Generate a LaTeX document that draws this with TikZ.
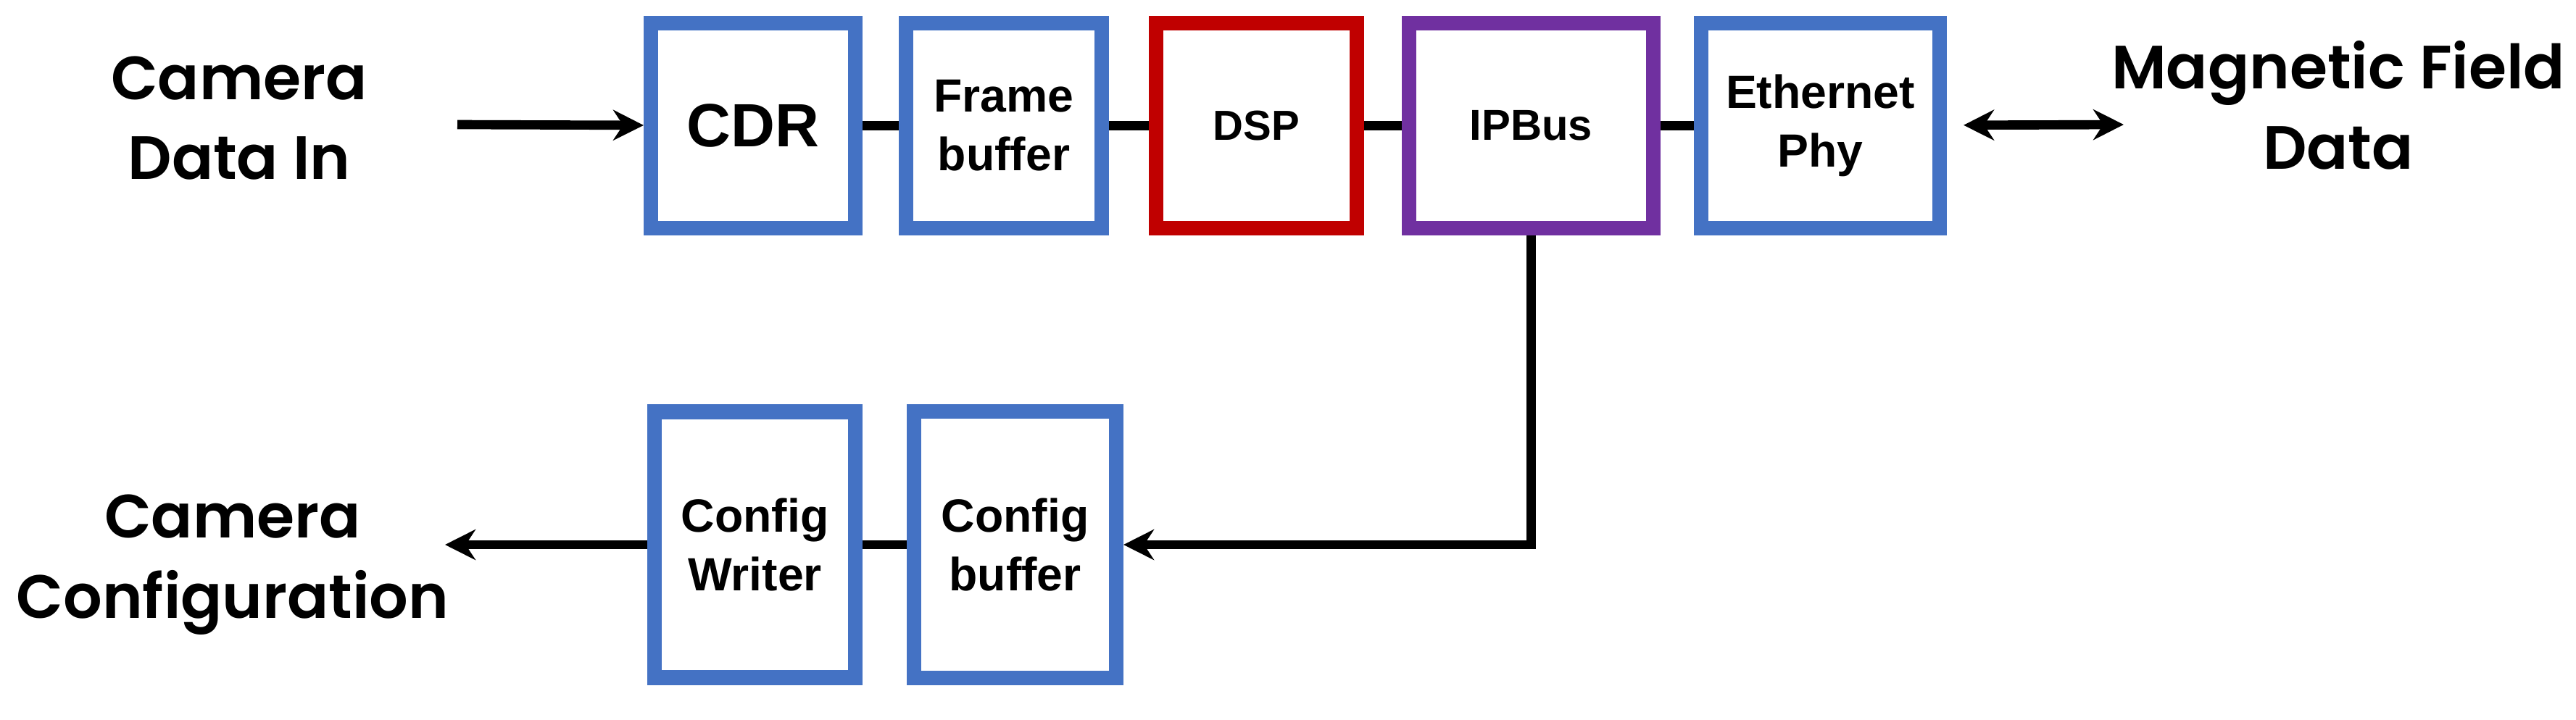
\documentclass[tikz,border=0pt]{standalone}
\usepackage{fontspec}
\setmainfont{Liberation Sans}
\newfontfamily\labelfont{Poppins}[UprightFont={* SemiBold}]
\usetikzlibrary{arrows.meta}
\definecolor{boxblue}{RGB}{68,114,196}
\definecolor{boxred}{RGB}{192,0,0}
\definecolor{boxpurple}{RGB}{112,48,160}
\tikzset{
    block-box/.style = {draw=boxblue, fill=white, line width=5.7pt, rectangle, align=center, inner sep=0pt, minimum height=2.83cm},
    block-text/.style = {font=\bfseries\fontsize{18.3}{23}\selectfont},
    side-label/.style = {align=center, font=\labelfont\fontsize{24}{31.5}\selectfont},
    wire/.style = {line width=3.6pt},
    wire-arrow/.style = {wire, -{Stealth[length=0.42cm, width=0.42cm]}},
}

\begin{document}
\begin{tikzpicture}
\useasboundingbox (0,0) rectangle (35.54,-9.93);

% data path
\node [block-box, minimum width=2.82cm, font=\bfseries\fontsize{24}{28}\selectfont] (cdr) at (10.39,-1.735) {CDR};
\node [block-box, block-text, minimum width=2.70cm] (framebuf) at (13.85,-1.735) {Frame\\buffer};
\node [block-box, draw=boxred, minimum width=2.77cm, font=\bfseries\fontsize{16.5}{20}\selectfont] (dsp) at (17.335,-1.735) {DSP};
\node [block-box, draw=boxpurple, minimum width=3.37cm, font=\bfseries\fontsize{17}{20}\selectfont] (ipbus) at (21.125,-1.735) {IPBus};
\node [block-box, block-text, minimum width=3.29cm] (ethphy) at (25.115,-1.735) {Ethernet\\Phy};

% configuration path
\node [block-box, block-text, minimum width=2.77cm, minimum height=3.67cm] (cfgwriter) at (10.415,-7.52) {Config\\Writer};
\node [block-box, block-text, minimum width=2.79cm, minimum height=3.68cm] (cfgbuf) at (14.005,-7.52) {Config\\buffer};

% outside labels
\node [side-label] (camin) at (3.30,-1.63) {Camera\\Data In};
\node [side-label] (magdata) at (32.26,-1.45) {Magnetic Field\\Data};
\node [side-label] (camcfg) at (3.21,-7.80) {Camera\\Configuration};

\coordinate (inend) at (6.31,-1.72);
\coordinate (outend) at (6.14,-7.52);
\coordinate (magend) at (29.30,-1.72);

\draw [wire-arrow] (inend) -- (cdr);
\draw [wire] (cdr) -- (framebuf);
\draw [wire] (framebuf) -- (dsp);
\draw [wire] (dsp) -- (ipbus);
\draw [wire] (ipbus) -- (ethphy);
\draw [wire, {Stealth[length=0.42cm, width=0.42cm]}-{Stealth[length=0.42cm, width=0.42cm]}, shorten <=0.23cm] (ethphy) -- (magend);
\draw [wire-arrow] (ipbus.south) |- (cfgbuf.east);
\draw [wire] (cfgbuf) -- (cfgwriter);
\draw [wire-arrow] (cfgwriter) -- (outend);
\end{tikzpicture}
\end{document}
